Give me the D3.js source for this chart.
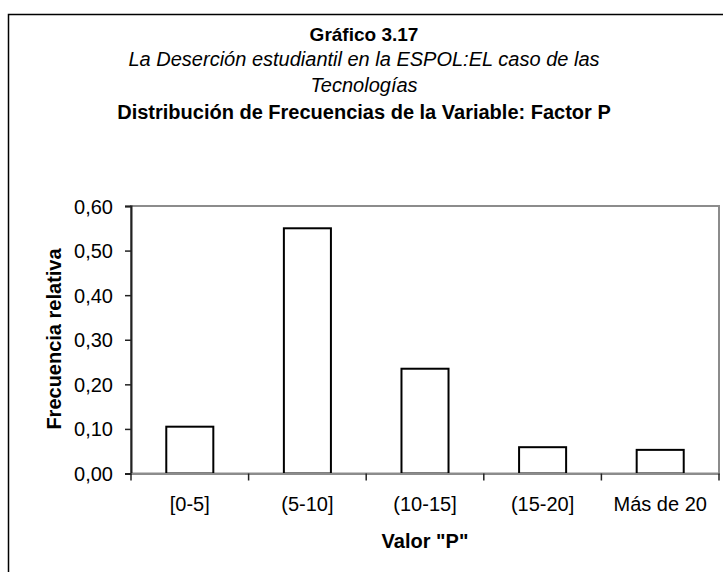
<html>
<meta charset="utf-8">
<head>
	<title>Gráfico 3.17</title>
	<script src="https://d3js.org/d3.v7.min.js"></script>
</head>
<body style="margin:0;background:#fff">
<svg id="chart" height="572" width="723"></svg>

<script>
	var categories = ["[0-5]", "(5-10]", "(10-15]", "(15-20]", "Más de 20"];
	var frecuencias = [0.105, 0.55, 0.235, 0.059, 0.053];
	var yTicks = [0, 0.1, 0.2, 0.3, 0.4, 0.5, 0.6];
	var titleLines = ["Gráfico 3.17", "La Deserción estudiantil en la ESPOL:EL caso de las", "Tecnologías", "Distribución de Frecuencias de la Variable: Factor P"];

	var svg = d3.select("#chart");
	var font = "'Liberation Sans', Arial, sans-serif";

	// outer frame (runs off the right / bottom edge)
	svg.append("rect")
		.attr("x", 8.5).attr("y", 14.5)
		.attr("width", 730).attr("height", 600)
		.attr("fill", "white").attr("stroke", "black").attr("stroke-width", 1.5);

	// titles
	var styles = [
		{ weight: "bold", style: "normal", y: 41, size: 19 },
		{ weight: "normal", style: "italic", y: 66, size: 20 },
		{ weight: "normal", style: "italic", y: 92, size: 20 },
		{ weight: "bold", style: "normal", y: 119, size: 20 }
	];
	titleLines.forEach(function (t, i) {
		svg.append("text")
			.attr("x", 364).attr("y", styles[i].y)
			.attr("text-anchor", "middle")
			.attr("font-family", font).attr("font-size", styles[i].size)
			.attr("font-weight", styles[i].weight)
			.attr("font-style", styles[i].style)
			.text(t);
	});

	var plotLeft = 131, plotRight = 719, plotTop = 206, plotBottom = 473.5;

	var x = d3.scaleBand().domain(categories).range([plotLeft, plotRight]).paddingInner(0.6).paddingOuter(0.3);
	var xAxisScale = d3.scaleBand().domain(categories).range([plotLeft, plotRight]);
	var y = d3.scaleLinear().domain([0, 0.6]).range([plotBottom, plotTop]);

	// plot area border
	svg.append("rect")
		.attr("x", plotLeft).attr("y", plotTop)
		.attr("width", plotRight - plotLeft).attr("height", plotBottom - plotTop)
		.attr("fill", "white").attr("stroke", "#8c8c8c").attr("stroke-width", 2);

	// bars
	svg.selectAll("rect.bar").data(frecuencias).enter()
		.append("rect")
		.attr("class", "bar")
		.attr("x", function (d, i) { return x(categories[i]); })
		.attr("width", x.bandwidth())
		.attr("y", function (d) { return y(d); })
		.attr("height", function (d) { return plotBottom - y(d); })
		.attr("fill", "white").attr("stroke", "black").attr("stroke-width", 2);

	// y axis
	var yAxis = svg.append("g")
		.attr("transform", "translate(" + plotLeft + ",0)")
		.call(d3.axisLeft(y).tickValues(yTicks).tickSize(6).tickPadding(12)
			.tickFormat(function (d) { return d3.format(".2f")(d).replace(".", ","); }));
	yAxis.select(".domain").attr("stroke", "#222").attr("stroke-width", 2);
	yAxis.selectAll(".tick line").attr("stroke", "#222").attr("stroke-width", 1.5);
	yAxis.selectAll("text").attr("font-family", font).attr("font-size", 20).attr("fill", "black").attr("dy", "0.35em");

	// x axis
	var xAxis = svg.append("g")
		.attr("transform", "translate(0," + plotBottom + ")")
		.call(d3.axisBottom(xAxisScale).tickSize(0).tickPadding(23));
	xAxis.select(".domain").attr("stroke", "#8c8c8c").attr("stroke-width", 2);
	xAxis.selectAll("text").attr("font-family", font).attr("font-size", 20).attr("fill", "black");
	var edges = categories.map(function (c) { return xAxisScale(c); }).concat([plotRight]);
	svg.selectAll("line.xtick").data(edges).enter()
		.append("line").attr("class", "xtick")
		.attr("x1", function (d) { return d; }).attr("x2", function (d) { return d; })
		.attr("y1", plotBottom).attr("y2", plotBottom + 7)
		.attr("stroke", "#222").attr("stroke-width", 1.5);

	// axis titles
	svg.append("text")
		.attr("transform", "translate(61,339) rotate(-90)")
		.attr("text-anchor", "middle")
		.attr("font-family", font).attr("font-size", 20).attr("font-weight", "bold")
		.text("Frecuencia relativa");
	svg.append("text")
		.attr("x", 425).attr("y", 548)
		.attr("text-anchor", "middle")
		.attr("font-family", font).attr("font-size", 20).attr("font-weight", "bold")
		.text("Valor \"P\"");
</script>
</body>
</html>
